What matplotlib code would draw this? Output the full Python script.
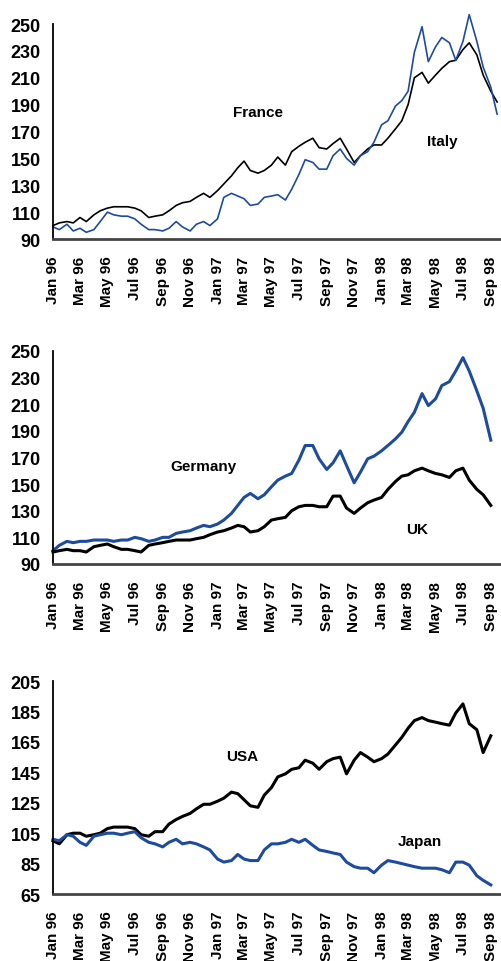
import matplotlib
matplotlib.use('Agg')
import matplotlib.pyplot as plt
import numpy as np
import pandas as pd

plt.rcParams['font.family'] = ['Liberation Sans', 'DejaVu Sans']
plt.rcParams['font.weight'] = 'bold'

# half-monthly readings, 1 Jan 96 onwards
france = [100, 102, 103, 102, 106, 103, 108, 111, 113, 114, 114, 114, 113, 111, 106, 107,
          108, 111, 115, 117, 118, 121, 124, 121, 126, 131, 137, 143, 148, 141, 139, 141,
          145, 151, 145, 155, 159, 162, 165, 158, 157, 161, 165, 157, 147, 152, 157, 160,
          160, 165, 172, 178, 190, 210, 214, 206, 212, 217, 222, 223, 231, 236, 227, 212,
          200, 192]
italy = [99, 97, 101, 96, 98, 95, 97, 103, 110, 108, 107, 107, 105, 101, 97, 97,
         96, 98, 103, 99, 96, 101, 103, 100, 105, 121, 124, 122, 120, 115, 116, 121,
         122, 123, 119, 127, 138, 149, 147, 142, 142, 152, 157, 150, 145, 152, 155, 162,
         175, 178, 189, 193, 200, 229, 248, 222, 233, 240, 236, 223, 237, 257, 237, 218,
         203, 183]
germany = [100, 104, 107, 106, 107, 107, 108, 108, 108, 107, 108, 108, 110, 109, 107, 108,
           110, 110, 113, 114, 115, 117, 119, 118, 120, 123, 128, 134, 140, 143, 139, 142,
           148, 153, 156, 158, 168, 179, 179, 169, 161, 166, 175, 164, 151, 159, 169, 171,
           175, 179, 184, 189, 197, 204, 218, 209, 214, 224, 227, 235, 245, 235, 220, 207,
           183]
uk = [99, 100, 101, 100, 100, 99, 103, 104, 105, 103, 101, 101, 100, 99, 104, 105,
      106, 107, 108, 108, 108, 109, 110, 112, 114, 115, 117, 119, 118, 114, 115, 118,
      123, 124, 125, 130, 133, 134, 134, 133, 133, 141, 141, 132, 128, 132, 136, 138,
      140, 146, 152, 156, 157, 160, 162, 160, 158, 157, 155, 160, 162, 153, 146, 142,
      134]
usa = [100, 98, 104, 105, 105, 103, 104, 105, 108, 109, 109, 109, 108, 104, 103, 106,
       106, 111, 114, 116, 118, 121, 124, 124, 126, 128, 132, 131, 127, 123, 122, 130,
       135, 142, 144, 147, 148, 153, 151, 147, 152, 154, 155, 144, 153, 158, 155, 152,
       154, 157, 163, 168, 174, 179, 181, 179, 178, 177, 176, 184, 190, 177, 173, 158,
       169]
japan = [101, 100, 104, 103, 99, 97, 103, 104, 105, 105, 104, 105, 106, 102, 99, 98,
         96, 99, 101, 98, 99, 98, 96, 94, 88, 86, 87, 91, 88, 87, 87, 94,
         98, 98, 99, 101, 99, 101, 97, 94, 93, 92, 91, 86, 83, 82, 82, 79,
         84, 87, 86, 85, 84, 83, 82, 82, 82, 81, 79, 86, 86, 84, 77, 74,
         71]

tick_labels = ['Jan 96', 'Mar 96', 'May 96', 'Jul 96', 'Sep 96', 'Nov 96',
               'Jan 97', 'Mar 97', 'May 97', 'Jul 97', 'Sep 97', 'Nov 97',
               'Jan 98', 'Mar 98', 'May 98', 'Jul 98', 'Sep 98']

dates = pd.date_range('1996-01-01', periods=66, freq='SMS')
ticks = pd.date_range('1996-01-01', periods=len(tick_labels), freq='2MS')

BLUE = '#1d4c9e'

panels = [
    dict(pos=[0.1056, 0.7505, 0.890, 0.2235], yt=np.arange(90, 251, 20), lw=1.2,
         series=[(france, 'black', 'France', 0.459, 0.591),
                 (italy, BLUE, 'Italy', 0.872, 0.456)],
         order=[0, 1]),
    dict(pos=[0.1056, 0.4127, 0.890, 0.2214], yt=np.arange(90, 251, 20), lw=2.2,
         series=[(germany, BLUE, 'Germany', 0.336, 0.460),
                 (uk, 'black', 'UK', 0.814, 0.164)],
         order=[0, 1]),
    dict(pos=[0.1056, 0.0696, 0.890, 0.2214], yt=np.arange(65, 206, 20), lw=2.2,
         series=[(usa, 'black', 'USA', 0.423, 0.648),
                 (japan, BLUE, 'Japan', 0.821, 0.249)],
         order=[0, 1]),
]

fig = plt.figure(figsize=(5.02, 9.62), dpi=100)
for p in panels:
    ax = fig.add_axes(p['pos'])
    for i in p['order']:
        vals, col, name, tx, ty = p['series'][i]
        ax.plot(dates[:len(vals)], vals, color=col, lw=p['lw'], clip_on=False)
        ax.text(tx, ty, name, transform=ax.transAxes, ha='center', va='center',
                fontsize=11, fontweight='bold')
    ax.set_ylim(p['yt'][0], p['yt'][-1])
    ax.set_yticks(p['yt'])
    ax.set_xlim(pd.Timestamp('1996-01-01'), pd.Timestamp('1998-09-21'))
    ax.set_xticks(ticks)
    ax.set_xticklabels(tick_labels, rotation=90, fontsize=11, fontweight='bold')
    ax.tick_params(axis='y', length=0, pad=9, labelsize=13)
    ax.tick_params(axis='x', length=0, pad=12)
    for s in ['top', 'right']:
        ax.spines[s].set_visible(False)
    ax.spines['left'].set_linewidth(1.3)
    ax.spines['bottom'].set_linewidth(2)
    ax.spines['bottom'].set_color('#444444')

fig.savefig('out.png', dpi=100)
